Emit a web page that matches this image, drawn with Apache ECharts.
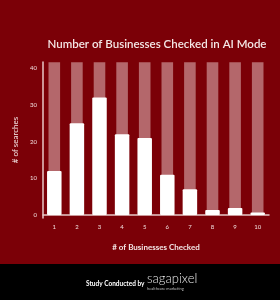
<!DOCTYPE html>
<html><head><meta charset="utf-8">
<script src="https://cdn.jsdelivr.net/npm/echarts@6/dist/echarts.min.js"></script>
<style>html,body{margin:0;padding:0;background:#7b0007;}#c{width:280px;height:300px;}</style>
</head><body><div id="c"></div>
<script>
const categories = ['1','2','3','4','5','6','7','8','9','10'];
const searches = [12, 25, 32, 22, 21, 11, 7, 1.4, 1.9, 0.7];
const backgroundMax = [41.6, 41.6, 41.6, 41.6, 41.6, 41.6, 41.6, 41.6, 41.6, 41.6];
const yTicks = [0, 10, 20, 30, 40];

const chart = echarts.init(document.getElementById('c'));
const font = 'Lato, "Open Sans", sans-serif';
chart.setOption({
  backgroundColor: '#7b0007',
  animation: false,
  title: {
    text: 'Number of Businesses Checked in AI Mode',
    left: 152, top: 33, textAlign: 'center',
    textStyle: {color: '#f4e6e6', fontSize: 11.5, fontWeight: 600, fontFamily: font}
  },
  grid: {left: 43, right: 11, top: 62, bottom: 82},
  xAxis: [{
    type: 'category', data: categories,
    axisLine: {lineStyle: {color: '#e8c9c9', width: 1.5}},
    axisTick: {show: false},
    axisLabel: {color: '#f2dede', fontSize: 6, margin: 6, fontFamily: font},
    name: '# of Businesses Checked', nameLocation: 'middle', nameGap: 25,
    nameTextStyle: {color: '#f4e6e6', fontSize: 8, fontWeight: 'bold', fontFamily: font}
  }, {
    type: 'category', data: categories, show: false
  }],
  yAxis: {
    type: 'value', min: -0.8, max: 41.7,
    splitLine: {show: false},
    axisLine: {show: true, lineStyle: {color: '#e8c9c9', width: 1.5}},
    axisTick: {show: false},
    axisLabel: {color: '#f2dede', fontSize: 6, margin: 6, fontFamily: font, customValues: yTicks},
    name: '# of searches', nameLocation: 'middle', nameGap: 21,
    nameTextStyle: {color: '#f4e6e6', fontSize: 8, fontFamily: font}
  },
  series: [{
    type: 'bar', xAxisIndex: 1, data: backgroundMax, barWidth: 11.6,
    itemStyle: {color: '#b4676b'}, silent: true, z: 1
  }, {
    type: 'bar', xAxisIndex: 0, data: searches, barWidth: 14.5,
    itemStyle: {color: '#ffffff', borderRadius: 1}, z: 2
  }],
  graphic: [
    {type: 'rect', left: 0, top: 264, shape: {width: 280, height: 36}, style: {fill: '#000000'}, z: 10},
    {type: 'text', left: 86, top: 280, style: {text: 'Study Conducted by', fill: '#ffffff', font: 'bold 6.5px ' + font}, z: 11},
    {type: 'text', left: 147, top: 272, style: {text: 'sagapixel', fill: '#e6e6e6', font: '300 13px ' + font}, z: 11},
    {type: 'text', left: 147, top: 287, style: {text: 'healthcare marketing', fill: '#bdbdbd', font: '4px ' + font}, z: 11}
  ]
});
</script></body></html>
